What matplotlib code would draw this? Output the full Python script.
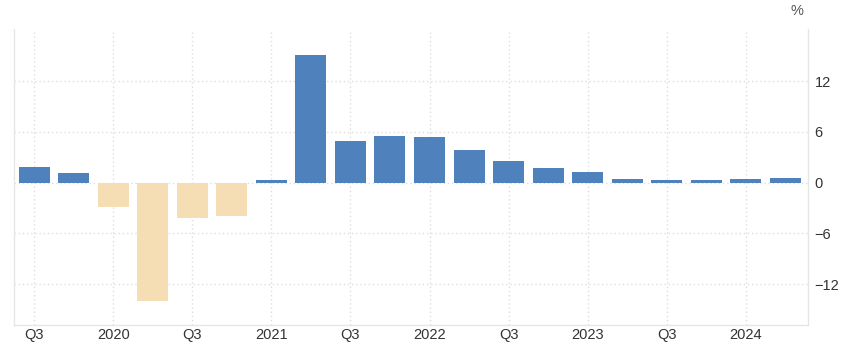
import numpy as np
import matplotlib
matplotlib.use('Agg')
import matplotlib.pyplot as plt

plt.rcParams['font.family'] = ['Liberation Sans', 'DejaVu Sans']

quarters = ['Q3 2019', 'Q4 2019', 'Q1 2020', 'Q2 2020', 'Q3 2020', 'Q4 2020',
            'Q1 2021', 'Q2 2021', 'Q3 2021', 'Q4 2021', 'Q1 2022', 'Q2 2022',
            'Q3 2022', 'Q4 2022', 'Q1 2023', 'Q2 2023', 'Q3 2023', 'Q4 2023',
            'Q1 2024', 'Q2 2024']
values = [1.86, 1.15, -2.84, -13.96, -4.14, -3.9,
          0.32, 15.1, 4.93, 5.53, 5.41, 3.87,
          2.57, 1.74, 1.26, 0.43, 0.32, 0.32,
          0.43, 0.55]
tick_labels = ['Q3', '2020', 'Q3', '2021', 'Q3', '2022', 'Q3', '2023', 'Q3', '2024']
y_ticks = [-12, -6, 0, 6, 12]

blue = '#4f81bd'
tan = '#f5deb3'

fig = plt.figure(figsize=(8.45, 3.49), dpi=100)
ax = fig.add_axes([0.0169, 0.0688, 0.939, 0.8472])

x = np.arange(len(values))
colors = [blue if v >= 0 else tan for v in values]
ax.bar(x, values, width=0.785, color=colors, zorder=2)

ax.set_xlim(-0.506, 19.57)
ax.set_ylim(-16.84, 18.15)

ax.set_xticks(x[::2])
ax.set_xticklabels(tick_labels)
ax.set_yticks(y_ticks)
ax.yaxis.tick_right()

ax.grid(True, color='#dddddd', linestyle=(0, (1, 2)), linewidth=1, zorder=0)
ax.tick_params(axis='both', length=0, labelsize=10.5, colors='#333333')
ax.tick_params(axis='x', pad=2)
ax.tick_params(axis='y', pad=5)

for side in ['top']:
    ax.spines[side].set_visible(False)
for side in ['left', 'right', 'bottom']:
    ax.spines[side].set_color('#e6e6e6')
    ax.spines[side].set_linewidth(1)

fig.text(0.943, 0.968, '%', fontsize=10.5, color='#555555', ha='center', va='center')

fig.savefig('out.png', dpi=100)
